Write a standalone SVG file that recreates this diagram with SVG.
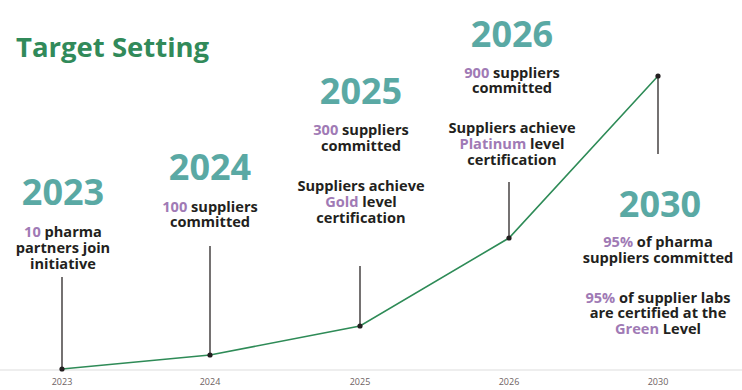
<svg xmlns="http://www.w3.org/2000/svg" width="742" height="390" viewBox="0 0 742 390">
<style>
.title{font-family:"Open Sans","Liberation Sans",sans-serif;font-weight:700;font-size:27.5px;fill:#318a5a}
.yr{font-family:"Open Sans","Liberation Sans",sans-serif;font-weight:700;font-size:36px;fill:#5aa9a4;text-anchor:middle}
.t{font-family:"Open Sans","Liberation Sans",sans-serif;font-weight:700;font-size:14.6px;fill:#231f20;text-anchor:middle}
.p{fill:#a07ab5}
.ax{font-family:"Open Sans","Liberation Sans",sans-serif;font-size:9px;fill:#6d6262;text-anchor:middle}
.stem{stroke:#3a3535;stroke-width:1.4}
.dot{fill:#231f20}
</style>
<rect width="742" height="390" fill="#ffffff"/>
<text class="title" x="16" y="57">Target Setting</text>
<g id="axis">
<line x1="0" y1="370" x2="742" y2="370" stroke="#eeeeee" stroke-width="2"/>
<text class="ax" x="62" y="385">2023</text>
<text class="ax" x="210" y="385">2024</text>
<text class="ax" x="360" y="385">2025</text>
<text class="ax" x="509" y="385">2026</text>
<text class="ax" x="658" y="385">2030</text>
</g>
<g id="connectors">
<polyline points="62,369 210,355 360,326 509,238 658,76" fill="none" stroke="#2e8b57" stroke-width="1.6"/>
<line class="stem" x1="62" y1="277" x2="62" y2="369"/>
<line class="stem" x1="210" y1="246" x2="210" y2="355"/>
<line class="stem" x1="360" y1="266" x2="360" y2="326"/>
<line class="stem" x1="509" y1="182" x2="509" y2="238"/>
<line class="stem" x1="658" y1="76" x2="658" y2="154"/>
</g>
<g id="n2023">
<circle class="dot" cx="62" cy="369" r="2.6"/>
<text class="yr" x="63" y="205">2023</text>
<text class="t" x="63" y="237"><tspan class="p">10</tspan> pharma</text>
<text class="t" x="63" y="253">partners join</text>
<text class="t" x="63" y="269">initiative</text>
</g>
<g id="n2024">
<circle class="dot" cx="210" cy="355" r="2.6"/>
<text class="yr" x="210" y="180">2024</text>
<text class="t" x="210" y="212"><tspan class="p">100</tspan> suppliers</text>
<text class="t" x="210" y="227">committed</text>
</g>
<g id="n2025">
<circle class="dot" cx="360" cy="326" r="2.6"/>
<text class="yr" x="361" y="104">2025</text>
<text class="t" x="361" y="135"><tspan class="p">300</tspan> suppliers</text>
<text class="t" x="361" y="151">committed</text>
<text class="t" x="361" y="191">Suppliers achieve</text>
<text class="t" x="361" y="207"><tspan class="p">Gold</tspan> level</text>
<text class="t" x="361" y="223">certification</text>
</g>
<g id="n2026">
<circle class="dot" cx="509" cy="238" r="2.6"/>
<text class="yr" x="512" y="47">2026</text>
<text class="t" x="512" y="78"><tspan class="p">900</tspan> suppliers</text>
<text class="t" x="512" y="93">committed</text>
<text class="t" x="512" y="133">Suppliers achieve</text>
<text class="t" x="512" y="149"><tspan class="p">Platinum</tspan> level</text>
<text class="t" x="512" y="165">certification</text>
</g>
<g id="n2030">
<circle class="dot" cx="658" cy="76" r="2.6"/>
<text class="yr" x="660" y="217">2030</text>
<text class="t" x="658" y="247"><tspan class="p">95%</tspan> of pharma</text>
<text class="t" x="658" y="263">suppliers committed</text>
<text class="t" x="658" y="303"><tspan class="p">95%</tspan> of supplier labs</text>
<text class="t" x="658" y="318">are certified at the</text>
<text class="t" x="658" y="334"><tspan class="p">Green</tspan> Level</text>
</g>
</svg>
